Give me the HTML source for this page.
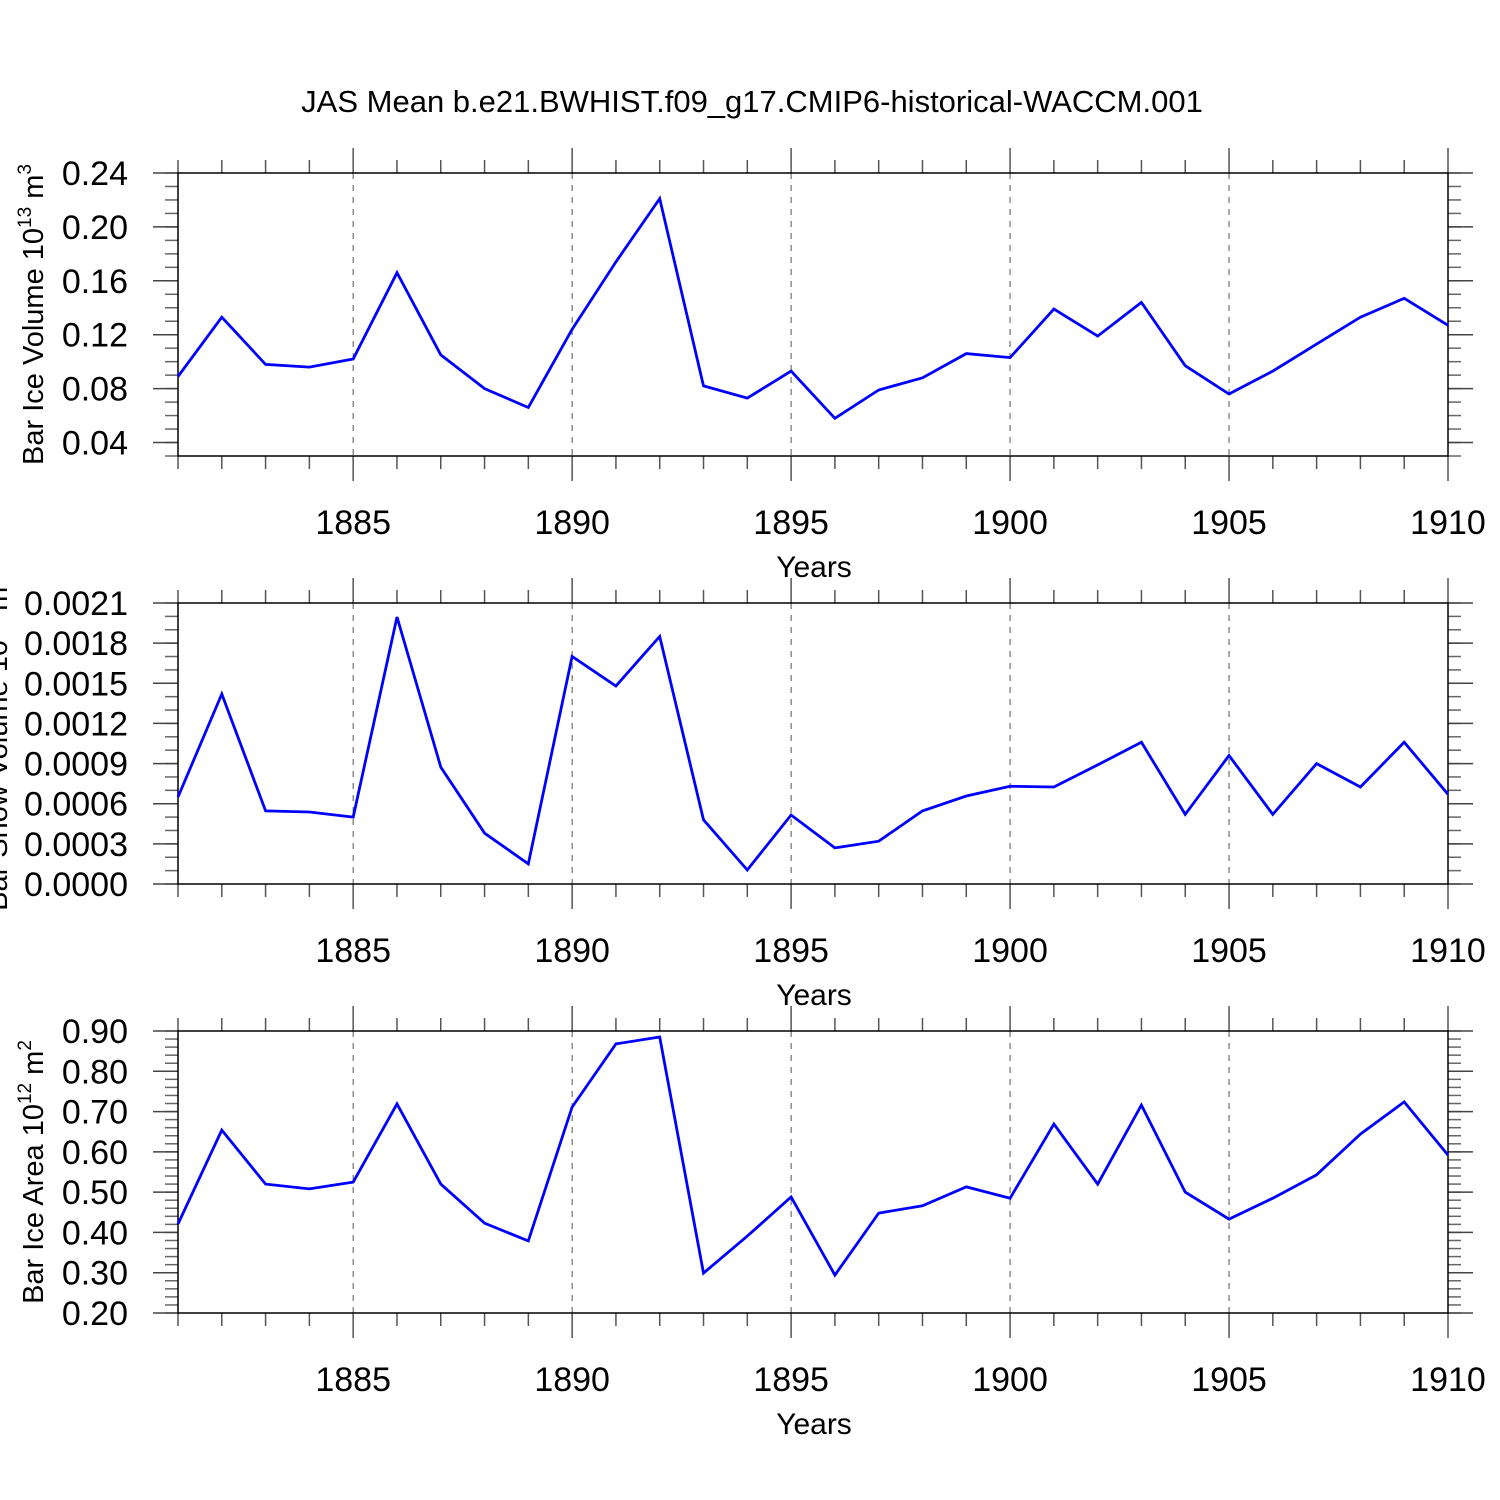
<!DOCTYPE html>
<html><head><meta charset="utf-8">
<style>
html,body{margin:0;padding:0;background:#fff;}
svg{display:block;font-family:"Liberation Sans",sans-serif;}
</style></head>
<body>
<svg id="chart" width="1500" height="1500" viewBox="0 0 1500 1500" xmlns="http://www.w3.org/2000/svg">
<rect width="1500" height="1500" fill="#fff"/>
<text x="752" y="112" font-size="31" text-anchor="middle">JAS Mean b.e21.BWHIST.f09_g17.CMIP6-historical-WACCM.001</text>
</svg>
<script>
const years = [1881,1882,1883,1884,1885,1886,1887,1888,1889,1890,1891,1892,1893,1894,1895,1896,1897,1898,1899,1900,1901,1902,1903,1904,1905,1906,1907,1908,1909,1910];
const iceVolume = [0.089,0.133,0.098,0.096,0.102,0.166,0.105,0.080,0.066,0.124,0.174,0.221,0.082,0.073,0.093,0.058,0.079,0.088,0.106,0.103,0.139,0.119,0.144,0.097,0.076,0.093,0.113,0.133,0.147,0.127];
const snowVolume = [0.00065,0.00142,0.000546,0.000538,0.0005,0.001995,0.000874,0.00038,0.00015,0.0017,0.00148,0.00185,0.00048,0.000105,0.000516,0.00027,0.00032,0.000546,0.000658,0.00073,0.000725,0.00089,0.00106,0.00052,0.00096,0.00052,0.0009,0.000725,0.00106,0.00067];
const iceArea = [0.421,0.654,0.52,0.508,0.525,0.719,0.52,0.423,0.379,0.711,0.868,0.885,0.299,0.391,0.488,0.294,0.448,0.466,0.513,0.485,0.669,0.52,0.716,0.50,0.433,0.485,0.543,0.644,0.724,0.592];
const xTickYears = [1885,1890,1895,1900,1905,1910];
const volTicks = ["0.04","0.08","0.12","0.16","0.20","0.24"];
const snowTicks = ["0.0000","0.0003","0.0006","0.0009","0.0012","0.0015","0.0018","0.0021"];
const areaTicks = ["0.20","0.30","0.40","0.50","0.60","0.70","0.80","0.90"];

const NS="http://www.w3.org/2000/svg";
const svg=document.getElementById('chart');
function mk(tag,attrs,parent){const e=document.createElementNS(NS,tag);for(const k in attrs)e.setAttribute(k,attrs[k]);(parent||svg).appendChild(e);return e;}
const X0=178,X1=1448;
function xs(yr){return X0+(yr-1881)/(1910-1881)*(X1-X0);}

const panels=[
 {name:'ice-volume',top:173,bot:456,min:0.03,max:0.24,minor:0.01,ticks:volTicks,data:iceVolume,title:'Bar Ice Volume 10',sup:'13',unit:' m',usup:'3',tx:43,xl:522},
 {name:'snow-volume',top:603,bot:884,min:0,max:0.0021,minor:0.0001,ticks:snowTicks,data:snowVolume,title:'Bar Snow Volume 10',sup:'13',unit:' m',usup:'3',tx:7,xl:950},
 {name:'ice-area',top:1031,bot:1313,min:0.2,max:0.9,minor:0.02,ticks:areaTicks,data:iceArea,title:'Bar Ice Area 10',sup:'12',unit:' m',usup:'2',tx:43,xl:1379}
];
panels.forEach(p=>{
  const g=mk('g',{});
  
  
  const ys=v=>p.bot-(v-p.min)/(p.max-p.min)*(p.bot-p.top);
  xTickYears.forEach(yr=>{
    const l=mk('line',{x1:xs(yr),x2:xs(yr),y1:p.top,y2:p.bot,stroke:'#555','stroke-width':1,'stroke-dasharray':'6,6'},g);
    
    
  });
  years.forEach(yr=>{
    const major=yr%5===0;const len=major?25:13;
    mk('line',{x1:xs(yr),x2:xs(yr),y1:p.top-len,y2:p.top,stroke:'#555','stroke-width':1.5},g);
    mk('line',{x1:xs(yr),x2:xs(yr),y1:p.bot,y2:p.bot+len,stroke:'#555','stroke-width':1.5},g);
  });
  xTickYears.forEach(yr=>{
    const t=mk('text',{x:xs(yr),y:p.xl+12,'font-size':34,'text-anchor':'middle'},g);
    t.textContent=yr;
    
    
  });
  const xt=mk('text',{x:814,y:p.xl+55,'font-size':30,'text-anchor':'middle'},g);
  xt.textContent='Years';
  
  
  const nMinor=Math.round((p.max-p.min)/p.minor);
  for(let i=0;i<=nMinor;i++){
    const v=p.min+i*p.minor;const y=ys(v);
    mk('line',{x1:X0-13,x2:X0,y1:y,y2:y,stroke:'#666','stroke-width':1.5},g);
    mk('line',{x1:X1,x2:X1+13,y1:y,y2:y,stroke:'#666','stroke-width':1.5},g);
  }
  p.ticks.forEach(s=>{
    const y=ys(parseFloat(s));
    mk('line',{x1:X0-25,x2:X0,y1:y,y2:y,stroke:'#444','stroke-width':1.5},g);
    mk('line',{x1:X1,x2:X1+25,y1:y,y2:y,stroke:'#444','stroke-width':1.5},g);
    const t=mk('text',{x:128,y:y+12,'font-size':34,'text-anchor':'end'},g);
    t.textContent=s;
    
    
  });
  const f=mk('rect',{x:X0,y:p.top,width:X1-X0,height:p.bot-p.top,fill:'none',stroke:'#000','stroke-width':1.5},g);
  
  
  const pts=p.data.map((v,i)=>xs(years[i]).toFixed(1)+','+ys(v).toFixed(1)).join(' ');
  const pl=mk('polyline',{points:pts,fill:'none',stroke:'#0000ff','stroke-width':2.8,'stroke-linejoin':'miter'},g);
  
  
  const cy=(p.top+p.bot)/2;
  const yt=mk('text',{x:p.tx,y:cy,'font-size':29,'text-anchor':'middle',transform:'rotate(-90 '+p.tx+' '+cy+')'},g);
  
  
  yt.appendChild(document.createTextNode(p.title));
  const s1=mk('tspan',{'font-size':19,dy:-12},yt);s1.textContent=p.sup;
  const s2=mk('tspan',{dy:12},yt);s2.textContent=p.unit;
  const s3=mk('tspan',{'font-size':19,dy:-12},yt);s3.textContent=p.usup;
});
</script>
</body></html>
